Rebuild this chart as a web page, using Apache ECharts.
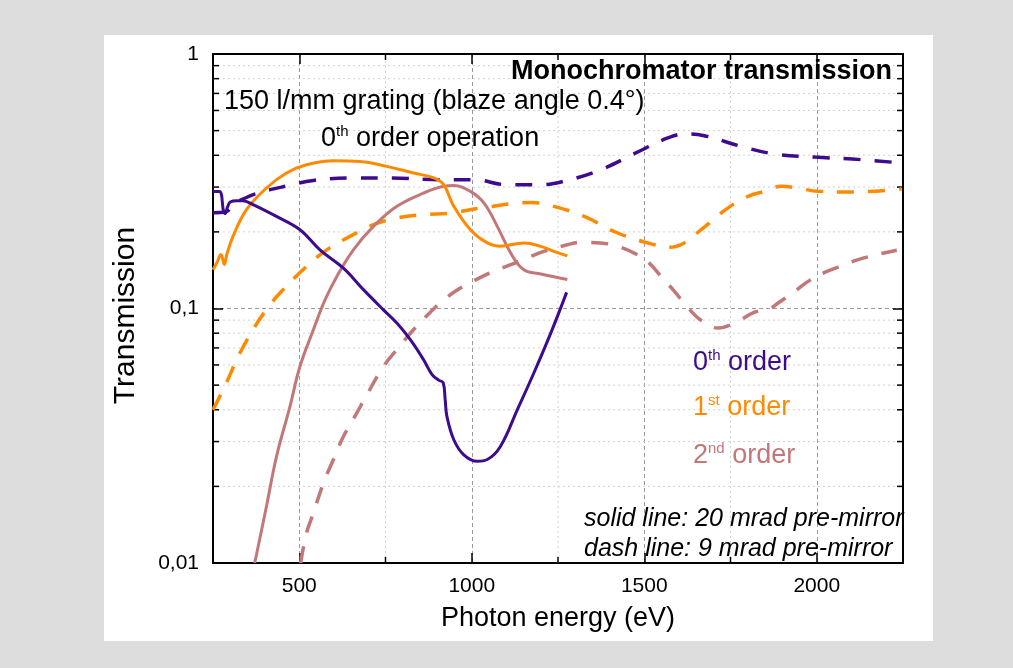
<!DOCTYPE html>
<html>
<head>
<meta charset="utf-8">
<script src="https://cdn.jsdelivr.net/npm/echarts@6/dist/echarts.min.js"></script>
<style>
  html, body { margin: 0; padding: 0; background: #dddddd; }
  #chart { width: 1013px; height: 668px; }
</style>
</head>
<body>
<div id="chart"></div>
<script>
// Axis ranges and tick labels
const X_MIN = 250, X_MAX = 2250;
const Y_MIN = 0.01, Y_MAX = 1;
const xTickValues = [500, 1000, 1500, 2000];
const yTickValues = [0.01, 0.1, 1];
const yTickLabels = ['0,01', '0,1', '1'];
const xMinorTicks = [750, 1250, 1750];
const yMinorTicks = [0.02, 0.03, 0.04, 0.05, 0.06, 0.07, 0.08, 0.09,
                     0.2, 0.3, 0.4, 0.5, 0.6, 0.7, 0.8, 0.9];

// Transmission curves, [photon energy (eV), transmission]
// solid: 20 mrad pre-mirror
const order0Solid = [[250,0.288],[268,0.288],[274,0.282],[277,0.262],[280,0.243],[285,0.236],
  [292,0.250],[300,0.262],[320,0.265],[336,0.265],[366,0.256],[434,0.230],[502,0.204],
  [560,0.170],[628,0.144],[686,0.1186],[744,0.0988],[783,0.0877],[822,0.0754],[860,0.063],
  [885,0.055],[905,0.0522],[917,0.0512],[923,0.0438],[928,0.0377],[948,0.0305],[977,0.0266],
  [1016,0.0251],[1045,0.0255],[1083,0.0287],[1132,0.040],[1180,0.0558],[1229,0.080],[1275,0.1157]];
const order1Solid = [[250,0.142],[262,0.152],[273,0.163],[276,0.160],[283,0.149],[290,0.163],
  [308,0.192],[347,0.2445],[405,0.2975],[463,0.3406],[521,0.367],[599,0.381],[676,0.3785],
  [754,0.3617],[831,0.3406],[890,0.326],[919,0.306],[948,0.252],[996,0.204],[1045,0.181],
  [1083,0.1757],[1151,0.181],[1200,0.1754],[1238,0.1676],[1277,0.161]];
const order2Solid = [[371,0.01],[405,0.0167],[434,0.0262],[473,0.0412],[502,0.0592],[541,0.0825],
  [575,0.1083],[609,0.1337],[657,0.170],[715,0.2102],[783,0.252],[860,0.284],[919,0.302],
  [948,0.304],[996,0.2885],[1035,0.26],[1074,0.2103],[1113,0.165],[1151,0.142],[1200,0.1367],
  [1277,0.13]];
// dashed: 9 mrad pre-mirror
const order0Dash = [[250,0.238],[287,0.240],[310,0.256],[333,0.2677],[381,0.2844],[468,0.304],
  [541,0.3187],[667,0.326],[764,0.326],[909,0.3208],[1006,0.3208],[1103,0.3064],[1200,0.3064],
  [1277,0.3187],[1374,0.351],[1471,0.4058],[1568,0.4677],[1616,0.485],[1674,0.4775],
  [1781,0.4334],[1878,0.4046],[1994,0.3937],[2130,0.3843],[2246,0.3729]];
const order1Dash = [[250,0.040],[289,0.0511],[328,0.0669],[378,0.0877],[410,0.101],[444,0.115],
  [521,0.1464],[580,0.170],[647,0.192],[715,0.2135],[783,0.2268],[860,0.2336],[938,0.2372],
  [1025,0.248],[1171,0.261],[1238,0.252],[1326,0.230],[1423,0.198],[1529,0.178],[1573,0.174],
  [1616,0.181],[1665,0.204],[1742,0.248],[1801,0.276],[1849,0.2886],[1897,0.302],[1946,0.2975],
  [2004,0.2886],[2110,0.287],[2246,0.295]];
const order2Dash = [[504,0.01],[521,0.0131],[541,0.0157],[570,0.0206],[599,0.0255],[628,0.0314],
  [667,0.0389],[696,0.0458],[744,0.0592],[783,0.0689],[831,0.0825],[880,0.0967],[919,0.1083],
  [967,0.1204],[1006,0.1285],[1064,0.140],[1113,0.1486],[1161,0.158],[1209,0.1676],[1277,0.178],
  [1316,0.182],[1374,0.181],[1423,0.1754],[1471,0.165],[1510,0.1527],[1549,0.1337],[1587,0.117],
  [1626,0.101],[1665,0.0897],[1713,0.0838],[1762,0.0877],[1820,0.0967],[1859,0.099],[1888,0.1051],
  [1936,0.1167],[1975,0.1278],[2023,0.1386],[2081,0.1486],[2120,0.1556],[2179,0.1634],[2232,0.1695]];

const FONT = '"Liberation Sans", Arial, Helvetica, sans-serif';
const PURPLE = '#3d0b8e';
const ORANGE = '#ff8a00';
const ROSE = '#c27878';
const DASH = [17, 14];

const chart = echarts.init(document.getElementById('chart'), null, { renderer: 'canvas' });

function curve(name, data, color, dashed) {
  return {
    name, type: 'line', data, xAxisIndex: 0, yAxisIndex: 0,
    showSymbol: false, smooth: 0.4, z: 5, silent: true,
    lineStyle: { color, width: dashed ? 3.5 : 3, type: dashed ? DASH : 'solid', cap: 'butt' }
  };
}

// minor grid lines with short inward ticks on both borders
function minorYItem(params, api) {
  const v = api.value(1);
  const a = api.coord([X_MIN, v]);
  const b = api.coord([X_MAX, v]);
  return { type: 'group', children: [
    { type: 'line', shape: { x1: a[0], y1: a[1], x2: b[0], y2: b[1] },
      style: { stroke: '#d2d2d2', lineWidth: 1, lineDash: [2, 3] } },
    { type: 'line', shape: { x1: a[0], y1: a[1], x2: a[0] + 6, y2: a[1] },
      style: { stroke: '#000', lineWidth: 1.5 } },
    { type: 'line', shape: { x1: b[0] - 6, y1: b[1], x2: b[0], y2: b[1] },
      style: { stroke: '#000', lineWidth: 1.5 } }
  ]};
}
function minorXItem(params, api) {
  const v = api.value(0);
  const a = api.coord([v, Y_MIN]);
  const b = api.coord([v, Y_MAX]);
  return { type: 'group', children: [
    { type: 'line', shape: { x1: a[0], y1: a[1], x2: b[0], y2: b[1] },
      style: { stroke: '#d2d2d2', lineWidth: 1, lineDash: [2, 3] } },
    { type: 'line', shape: { x1: a[0], y1: a[1], x2: a[0], y2: a[1] - 6 },
      style: { stroke: '#000', lineWidth: 1.5 } },
    { type: 'line', shape: { x1: b[0], y1: b[1], x2: b[0], y2: b[1] + 6 },
      style: { stroke: '#000', lineWidth: 1.5 } }
  ]};
}

const axisLine = { show: true, onZero: false, lineStyle: { color: '#000', width: 2 } };
const majorTick = { show: true, inside: true, length: 10, lineStyle: { color: '#000', width: 1.5 } };
const majorSplit = { show: true, lineStyle: { color: '#9a9a9a', width: 1, type: [4, 3] } };

function richLabel(color, size) {
  return {
    n: { fontSize: size, lineHeight: 30, fontFamily: FONT, fill: color },
    s: { fontSize: 15, lineHeight: 16, verticalAlign: 'top', fontFamily: FONT, fill: color }
  };
}

const option = {
  backgroundColor: '#dddddd',
  animation: false,
  grid: { left: 213, top: 54, right: 110, bottom: 105 },
  xAxis: [{
    type: 'value', position: 'bottom', min: X_MIN, max: X_MAX, splitNumber: 4,
    name: 'Photon energy (eV)', nameLocation: 'middle', nameGap: 42,
    nameTextStyle: { fontSize: 27, color: '#000', fontFamily: FONT },
    axisLine, axisTick: majorTick, splitLine: majorSplit,
    axisLabel: {
      color: '#000', fontSize: 21, fontFamily: FONT, margin: 13,
      showMinLabel: false, showMaxLabel: false,
      formatter: v => xTickValues.indexOf(v) >= 0 ? String(v) : ''
    }
  }, {
    type: 'value', position: 'top', min: X_MIN, max: X_MAX, splitNumber: 4,
    axisLine, axisTick: majorTick, splitLine: { show: false }, axisLabel: { show: false }
  }],
  yAxis: [{
    type: 'log', logBase: 10, position: 'left', min: Y_MIN, max: Y_MAX,
    name: 'Transmission', nameLocation: 'middle', nameGap: 72,
    nameTextStyle: { fontSize: 30, color: '#000', fontFamily: FONT, padding: [0, 14, 0, 0] },
    axisLine, axisTick: majorTick, splitLine: majorSplit,
    axisLabel: {
      color: '#000', fontSize: 21, fontFamily: FONT, margin: 14,
      formatter: v => {
        const i = yTickValues.findIndex(t => Math.abs(t - v) < t * 1e-6);
        return i >= 0 ? yTickLabels[i] : '';
      }
    }
  }, {
    type: 'log', logBase: 10, position: 'right', min: Y_MIN, max: Y_MAX,
    axisLine, axisTick: majorTick, splitLine: { show: false }, axisLabel: { show: false }
  }],
  graphic: [
    { type: 'rect', z: -100, shape: { x: 104, y: 35, width: 829, height: 606 },
      style: { fill: '#ffffff' }, silent: true },
    { type: 'text', z: 100, x: 892, y: 72, silent: true,
      style: { text: 'Monochromator transmission', fontSize: 27, fontWeight: 'bold',
               fontFamily: FONT, fill: '#000', align: 'right', verticalAlign: 'middle' } },
    { type: 'text', z: 100, x: 224, y: 102, silent: true,
      style: { text: '150 l/mm grating (blaze angle 0.4°)', fontSize: 27,
               fontFamily: FONT, fill: '#000', align: 'left', verticalAlign: 'middle' } },
    { type: 'text', z: 100, x: 321, y: 139, silent: true,
      style: { text: '{n|0}{s|th}{n| order operation}', rich: richLabel('#000', 27),
               align: 'left', verticalAlign: 'middle' } },
    { type: 'text', z: 100, x: 693, y: 363, silent: true,
      style: { text: '{n|0}{s|th}{n| order}', rich: richLabel(PURPLE, 27),
               align: 'left', verticalAlign: 'middle' } },
    { type: 'text', z: 100, x: 693, y: 408, silent: true,
      style: { text: '{n|1}{s|st}{n| order}', rich: richLabel(ORANGE, 27),
               align: 'left', verticalAlign: 'middle' } },
    { type: 'text', z: 100, x: 693, y: 456, silent: true,
      style: { text: '{n|2}{s|nd}{n| order}', rich: richLabel(ROSE, 27),
               align: 'left', verticalAlign: 'middle' } },
    { type: 'text', z: 100, x: 584, y: 519, silent: true,
      style: { text: 'solid line: 20 mrad pre-mirror', fontSize: 25, fontStyle: 'italic',
               fontFamily: FONT, fill: '#000', align: 'left', verticalAlign: 'middle' } },
    { type: 'text', z: 100, x: 584, y: 549, silent: true,
      style: { text: 'dash line: 9 mrad pre-mirror', fontSize: 25, fontStyle: 'italic',
               fontFamily: FONT, fill: '#000', align: 'left', verticalAlign: 'middle' } }
  ],
  series: [
    { type: 'custom', name: 'minorY', silent: true, z: 1, clip: false,
      data: yMinorTicks.map(v => [X_MIN, v]), renderItem: minorYItem },
    { type: 'custom', name: 'minorX', silent: true, z: 1, clip: false,
      data: xMinorTicks.map(v => [v, Y_MIN]), renderItem: minorXItem },
    curve('0th order, 9 mrad', order0Dash, PURPLE, true),
    curve('1st order, 9 mrad', order1Dash, ORANGE, true),
    curve('2nd order, 9 mrad', order2Dash, ROSE, true),
    curve('2nd order, 20 mrad', order2Solid, ROSE, false),
    curve('1st order, 20 mrad', order1Solid, ORANGE, false),
    curve('0th order, 20 mrad', order0Solid, PURPLE, false)
  ]
};

chart.setOption(option);
</script>
</body>
</html>
